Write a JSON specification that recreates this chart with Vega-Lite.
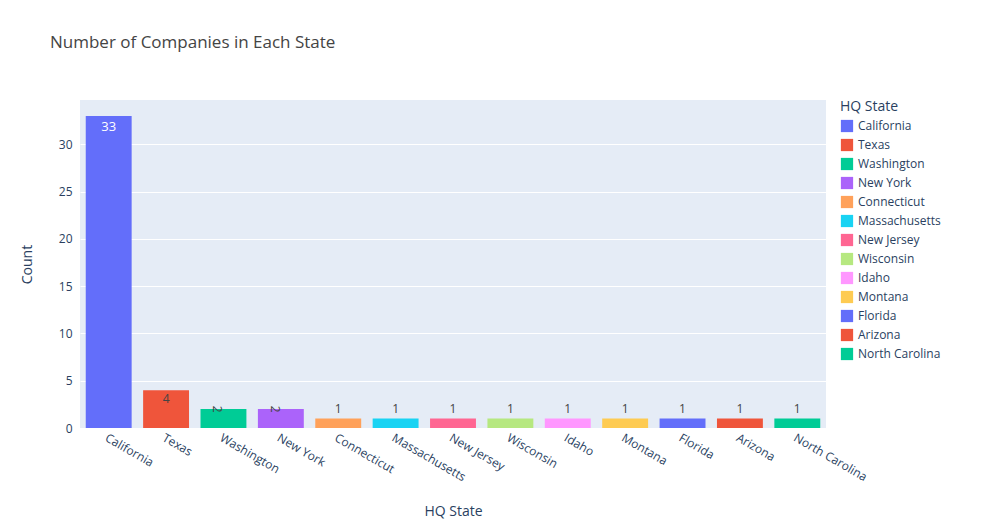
{
"$schema":"https://vega.github.io/schema/vega-lite/v6.json",
"width":746,"height":328,
"autosize":{"type":"none"},
"padding":{"left":80,"top":100,"right":158,"bottom":97},
"background":"white",
"title":{"text":"Number of Companies in Each State","anchor":"start","frame":"group","dx":-30,"offset":48,"fontSize":17,"font":"Open Sans","fontWeight":"normal","color":"#444"},
"config":{"view":{"fill":"#E5ECF6","stroke":null},"font":"Open Sans"},
"data":{"values":[
{"state":"California","count":33},{"state":"Texas","count":4},{"state":"Washington","count":2},{"state":"New York","count":2},{"state":"Connecticut","count":1},{"state":"Massachusetts","count":1},{"state":"New Jersey","count":1},{"state":"Wisconsin","count":1},{"state":"Idaho","count":1},{"state":"Montana","count":1},{"state":"Florida","count":1},{"state":"Arizona","count":1},{"state":"North Carolina","count":1}]},
"encoding":{"x":{"field":"state","type":"nominal","sort":null,"title":"HQ State","scale":{"paddingInner":0.2,"paddingOuter":0.1},
"axis":{"labelAngle":30,"labelAlign":"left","labelBaseline":"top","labelFontSize":12,"labelColor":"#2a3f5f","ticks":false,"domain":false,"titleFontSize":14,"titleFontWeight":"normal","titleColor":"#2a3f5f","titlePadding":22,"labelPadding":4}},
"y":{"field":"count","type":"quantitative","title":"Count","scale":{"domain":[0,34.7],"nice":false},
"axis":{"values":[0,5,10,15,20,25,30],"gridColor":"white","gridWidth":1,"domain":false,"ticks":false,"labelFontSize":12,"labelColor":"#2a3f5f","titleFontSize":14,"titleFontWeight":"normal","titleColor":"#2a3f5f","titlePadding":24,"labelPadding":8}}},
"layer":[
{"mark":{"type":"bar"},"encoding":{"color":{"field":"state","type":"nominal","sort":null,"title":"HQ State",
"scale":{"domain":["California","Texas","Washington","New York","Connecticut","Massachusetts","New Jersey","Wisconsin","Idaho","Montana","Florida","Arizona","North Carolina"],
"range":["#636efa","#EF553B","#00cc96","#ab63fa","#FFA15A","#19d3f3","#FF6692","#B6E880","#FF97FF","#FECB52","#636efa","#EF553B","#00cc96"]},
"legend":{"symbolType":"square","symbolSize":150,"labelFontSize":12,"labelColor":"#2a3f5f","titleFontSize":14,"titleFontWeight":"normal","titleColor":"#2a3f5f","offset":14,"rowPadding":5,"padding":0}}}},
{"transform":[{"filter":"datum.count==33"}],"mark":{"type":"text","baseline":"top","dy":5,"color":"white","fontSize":13},"encoding":{"text":{"field":"count"}}},
{"transform":[{"filter":"datum.count==4"}],"mark":{"type":"text","baseline":"top","dy":4,"color":"#444","fontSize":12},"encoding":{"text":{"field":"count"}}},
{"transform":[{"filter":"datum.count==2"}],"mark":{"type":"text","baseline":"middle","align":"center","angle":90,"dy":6,"color":"#444","fontSize":12},"encoding":{"text":{"field":"count"}}},
{"transform":[{"filter":"datum.count==1"}],"mark":{"type":"text","baseline":"bottom","dy":-3,"color":"#444","fontSize":12},"encoding":{"text":{"field":"count"}}}
]}
